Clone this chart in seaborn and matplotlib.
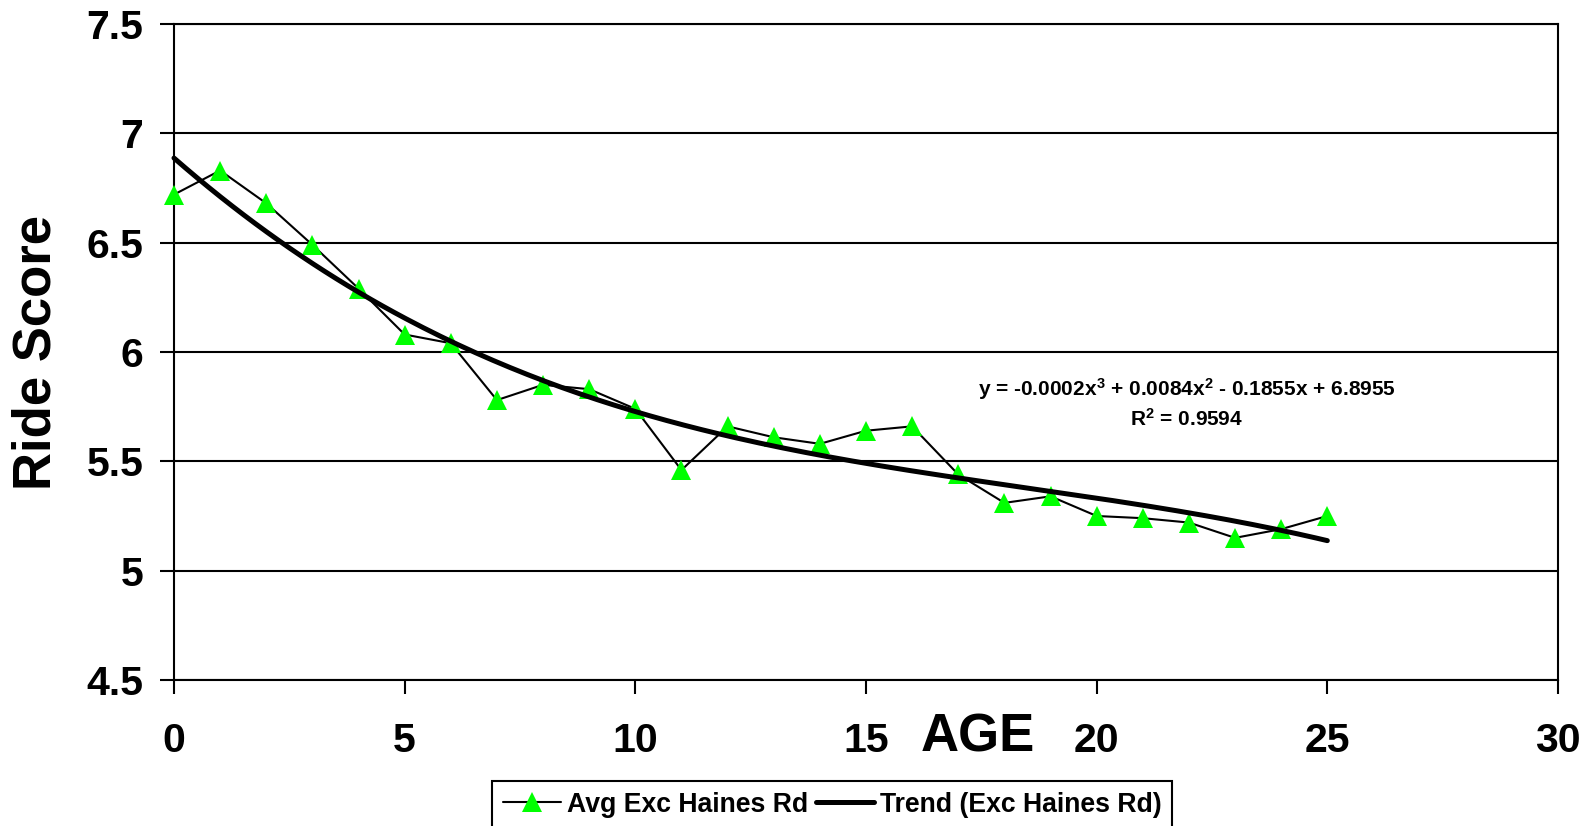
import numpy as np
import pandas as pd
import matplotlib
matplotlib.use('Agg')
import matplotlib.pyplot as plt
import seaborn as sns

# 数据：年龄与平均行驶评分
age = [0, 1, 2, 3, 4, 5, 6, 7, 8, 9, 10, 11, 12, 13, 14, 15, 16, 17, 18, 19, 20, 21, 22, 23, 24, 25]
ride_score = [6.72, 6.83, 6.68, 6.49, 6.29, 6.08, 6.04, 5.78, 5.85, 5.83, 5.74, 5.46, 5.66,
              5.61, 5.58, 5.64, 5.66, 5.44, 5.31, 5.34, 5.25, 5.24, 5.22, 5.15, 5.19, 5.25]
x_ticks = [0, 5, 10, 15, 20, 25, 30]
y_ticks = [4.5, 5, 5.5, 6, 6.5, 7, 7.5]
y_tick_labels = ['4.5', '5', '5.5', '6', '6.5', '7', '7.5']
series_label = 'Avg Exc Haines Rd'
trend_label = 'Trend (Exc Haines Rd)'
equation = r'y = -0.0002x$^{3}$ + 0.0084x$^{2}$ - 0.1855x + 6.8955'
r2_text = r'R$^{2}$ = 0.9594'

df = pd.DataFrame({'AGE': age, 'Ride Score': ride_score})

# 三次多项式趋势线
coef = np.polyfit(df['AGE'], df['Ride Score'], 3)
trend_x = np.linspace(min(age), max(age), 200)
trend_df = pd.DataFrame({'AGE': trend_x, 'Trend': np.polyval(coef, trend_x)})

sns.set_style('white')
plt.rcParams['font.family'] = ['Liberation Sans', 'DejaVu Sans']
plt.rcParams['font.weight'] = 'bold'
plt.rcParams['text.color'] = 'black'
plt.rcParams['axes.labelcolor'] = 'black'
plt.rcParams['xtick.color'] = 'black'
plt.rcParams['ytick.color'] = 'black'
plt.rcParams['mathtext.fontset'] = 'custom'
plt.rcParams['mathtext.rm'] = 'Liberation Sans:bold'
plt.rcParams['mathtext.it'] = 'Liberation Sans:bold'
plt.rcParams['mathtext.bf'] = 'Liberation Sans:bold'

fig = plt.figure(figsize=(15.91, 8.26), dpi=100)
ax = fig.add_axes([174 / 1591, 1 - 680 / 826, 1384 / 1591, 656 / 826])

sns.lineplot(data=df, x='AGE', y='Ride Score', ax=ax, color='black', linewidth=1.5,
             marker='^', markersize=15, markerfacecolor='#00ff00', markeredgecolor='#00ff00',
             markeredgewidth=0, label=series_label, zorder=3, clip_on=False)
sns.lineplot(data=trend_df, x='AGE', y='Trend', ax=ax, color='black', linewidth=3.6,
             label=trend_label, zorder=4, clip_on=False)

ax.set_xlim(0, 30)
ax.set_ylim(4.5, 7.5)
ax.set_xticks(x_ticks)
ax.set_yticks(y_ticks)
ax.set_yticklabels(y_tick_labels)
ax.tick_params(axis='both', labelsize=29.5, width=1.5, length=10, direction='out',
               color='black', bottom=True, left=True, top=False, right=False)
ax.tick_params(axis='x', pad=20)
ax.tick_params(axis='y', pad=12)
for lab in ax.get_xticklabels() + ax.get_yticklabels():
    lab.set_fontweight('bold')

ax.grid(axis='y', color='black', linewidth=1.5)
ax.grid(axis='x', visible=False)
for sp in ax.spines.values():
    sp.set_visible(True)
    sp.set_color('black')
    sp.set_linewidth(1.5)

ax.set_ylabel('Ride Score', fontsize=38, fontweight='bold', labelpad=18)
ax.set_xlabel('AGE', fontsize=38, fontweight='bold', va='center')
ax.xaxis.set_label_coords((978 - 174) / 1384, -0.088)

ax.text(1187 / 1591, 1 - 389 / 826, equation, transform=fig.transFigure,
        ha='center', va='center', fontsize=15, fontweight='bold')
ax.text(1187 / 1591, 1 - 419 / 826, r2_text, transform=fig.transFigure,
        ha='center', va='center', fontsize=15, fontweight='bold')

leg = ax.legend(loc='upper left', bbox_to_anchor=(492 / 1591, 1 - 781 / 826),
                bbox_transform=fig.transFigure, ncol=2, frameon=True, fancybox=False,
                edgecolor='black', framealpha=1, fontsize=19.2, handlelength=2.2,
                handletextpad=0.2, columnspacing=0.3, borderaxespad=0, borderpad=0.4)
leg.get_frame().set_linewidth(1.5)
for t in leg.get_texts():
    t.set_fontweight('bold')

plt.savefig('out.png', dpi=100)
plt.close()
